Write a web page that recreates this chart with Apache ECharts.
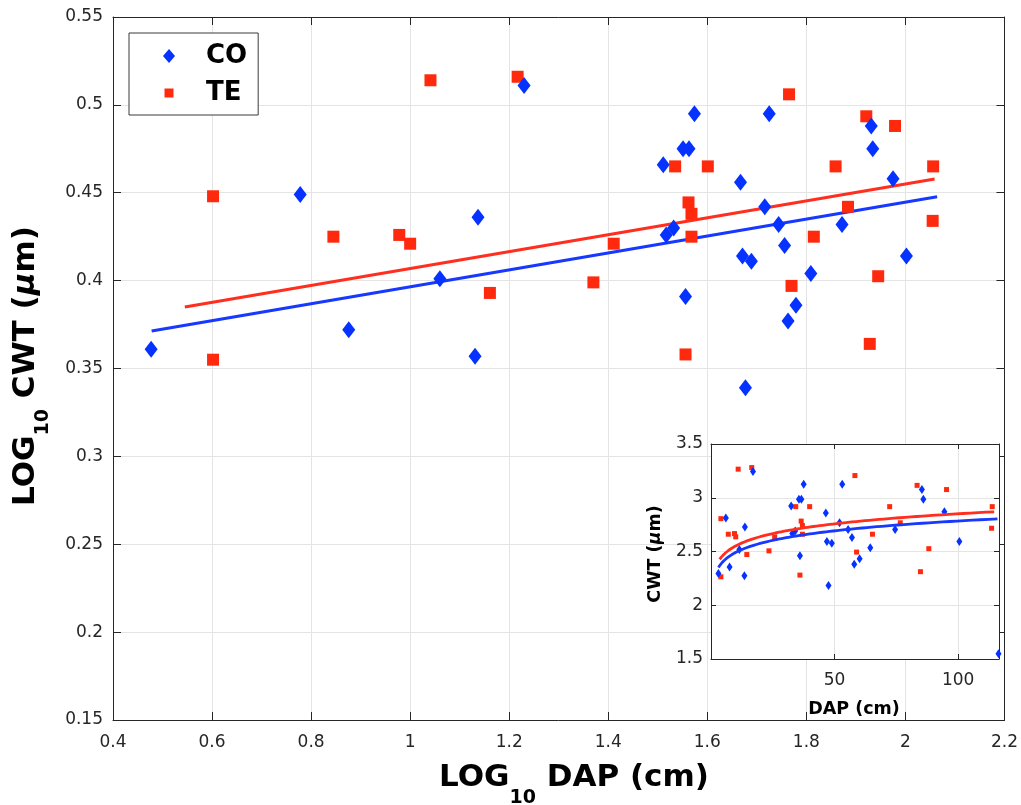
<!DOCTYPE html>
<html><head><meta charset="utf-8">
<script src="https://cdn.jsdelivr.net/npm/echarts@6/dist/echarts.min.js"></script>
<style>html,body{margin:0;padding:0;background:#fff}#c{width:1021px;height:805px}</style>
</head><body><div id="c"></div>
<script>
// ---- data (log10 values) ----
const coLogDAP = [0.477,0.778,0.876,1.060,1.137,1.131,1.230,1.511,1.517,1.532,1.551,1.556,1.563,1.574,1.667,1.671,1.677,1.689,1.716,1.725,1.744,1.756,1.763,1.779,1.809,1.872,1.931,1.934,1.975,2.002];
const coLogCWT = [0.361,0.449,0.372,0.401,0.436,0.357,0.511,0.466,0.426,0.430,0.475,0.391,0.475,0.495,0.456,0.414,0.339,0.411,0.442,0.495,0.432,0.420,0.377,0.386,0.404,0.432,0.488,0.475,0.458,0.414];
const teLogDAP = [0.602,0.602,0.845,0.978,1.000,1.041,1.161,1.217,1.370,1.411,1.535,1.556,1.562,1.568,1.568,1.601,1.765,1.770,1.815,1.859,1.884,1.921,1.928,1.945,1.979,2.055,2.056];
const teLogCWT = [0.448,0.355,0.425,0.426,0.421,0.514,0.393,0.516,0.399,0.421,0.465,0.358,0.4445,0.438,0.425,0.465,0.506,0.397,0.425,0.465,0.442,0.4935,0.364,0.4025,0.488,0.434,0.465];
// fitted regression lines (end points, log space)
const coFitLogDAP = [0.478, 2.064];
const coFitLogCWT = [0.3713, 0.4477];
const teFitLogDAP = [0.545, 2.059];
const teFitLogCWT = [0.385, 0.4578];
// inset-only point (linear units)
const insetCOExtraDAP = [116.3];
const insetCOExtraCWT = [1.55];
// axes
const mainXRange = [0.4, 2.2], mainXStep = 0.2;
const mainYRange = [0.15, 0.55], mainYStep = 0.05;
const insetXRange = [0, 116.5], insetXStep = 50;
const insetYRange = [1.5, 3.5], insetYStep = 0.5;
const seriesNames = ['CO', 'TE'];

const BLUE = '#0532FF', RED = '#FF2A0D';
const BLUE_L = '#1638FF', RED_L = '#FF2E1F';
const AX = '#262626', GRIDC = '#e4e4e4';
const FONT = 'DejaVu Sans';

const zip = (a, b) => a.map((v, i) => [v, b[i]]);
const pow10 = v => Math.pow(10, v);
const coMain = zip(coLogDAP, coLogCWT);
const teMain = zip(teLogDAP, teLogCWT);
const coInset = coMain.map(p => [pow10(p[0]), pow10(p[1])]).concat(zip(insetCOExtraDAP, insetCOExtraCWT));
const teInset = teMain.map(p => [pow10(p[0]), pow10(p[1])]);
function fitCurve(lx, ly, n) {
  const out = [];
  for (let i = 0; i <= n; i++) {
    const t = i / n;
    const x = lx[0] + (lx[1] - lx[0]) * t;
    const y = ly[0] + (ly[1] - ly[0]) * t;
    out.push([pow10(x), pow10(y)]);
  }
  return out;
}

// ---- title helper (subscripts) ----
const cv = document.createElement('canvas').getContext('2d');
function measure(t, size, italic) {
  cv.font = (italic ? 'italic ' : '') + 'bold ' + size + 'px "' + FONT + '"';
  return cv.measureText(t).width;
}
function titleGroup(parts, cx, cy, rot) {
  const ws = parts.map(p => measure(p.t, p.s, p.i));
  const W = ws.reduce((a, b) => a + b, 0);
  let x = -W / 2;
  const children = parts.map((p, k) => {
    const el = {
      type: 'text', x: x, y: p.dy || 0,
      style: { text: p.t, fontSize: p.s, fontWeight: 'bold', fontStyle: p.i ? 'italic' : 'normal',
        fontFamily: FONT, fill: '#000', textAlign: 'left', align: 'left',
        textVerticalAlign: 'middle', verticalAlign: 'middle' }
    };
    x += ws[k];
    return el;
  });
  return { type: 'group', x: cx, y: cy, rotation: rot, children: children, z: 50 };
}

function axisCommon(extra) {
  return Object.assign({
    type: 'value',
    axisLine: { show: true, onZero: false, lineStyle: { color: AX, width: 1 } },
    axisTick: { show: true, inside: true, length: 8, lineStyle: { color: AX, width: 1 } },
    axisLabel: { show: true, color: AX, fontSize: 17, fontFamily: FONT, showMinLabel: true, showMaxLabel: true },
    splitLine: { show: true, lineStyle: { color: GRIDC, width: 1 } }
  }, extra);
}

const G0 = { left: 113, top: 17, width: 892, height: 703 };
const G1 = { left: 711, top: 444, width: 288, height: 215 };

const option = {
  animation: false,
  backgroundColor: '#fff',
  grid: [
    Object.assign({ show: false, containLabel: false }, G0),
    Object.assign({ show: true, backgroundColor: '#fff', borderWidth: 0, containLabel: false, z: 2 }, G1)
  ],
  xAxis: [
    axisCommon({ gridIndex: 0, position: 'bottom', min: mainXRange[0], max: mainXRange[1], interval: mainXStep, z: 0,
      axisLabel: { color: AX, fontSize: 17, fontFamily: FONT, margin: 14, showMinLabel: true, showMaxLabel: true } }),
    axisCommon({ gridIndex: 0, position: 'top', min: mainXRange[0], max: mainXRange[1], interval: mainXStep, z: 0,
      axisLabel: { show: false }, splitLine: { show: false } }),
    axisCommon({ gridIndex: 1, position: 'bottom', min: insetXRange[0], max: insetXRange[1], interval: insetXStep, z: 3,
      axisTick: { show: true, inside: true, length: 5, lineStyle: { color: AX } },
      axisLabel: { color: AX, fontSize: 17, fontFamily: FONT, margin: 13, showMinLabel: false, showMaxLabel: false } }),
    axisCommon({ gridIndex: 1, position: 'top', min: insetXRange[0], max: insetXRange[1], interval: insetXStep, z: 3,
      axisTick: { show: true, inside: true, length: 5, lineStyle: { color: AX } },
      axisLabel: { show: false }, splitLine: { show: false } })
  ],
  yAxis: [
    axisCommon({ gridIndex: 0, position: 'left', min: mainYRange[0], max: mainYRange[1], interval: mainYStep, z: 0,
      axisLabel: { color: AX, fontSize: 17, fontFamily: FONT, margin: 10, showMinLabel: true, showMaxLabel: true } }),
    axisCommon({ gridIndex: 0, position: 'right', min: mainYRange[0], max: mainYRange[1], interval: mainYStep, z: 0,
      axisLabel: { show: false }, splitLine: { show: false } }),
    axisCommon({ gridIndex: 1, position: 'left', min: insetYRange[0], max: insetYRange[1], interval: insetYStep, z: 3,
      axisTick: { show: true, inside: true, length: 5, lineStyle: { color: AX } },
      axisLabel: { color: AX, fontSize: 17, fontFamily: FONT, margin: 8, showMinLabel: true, showMaxLabel: true } }),
    axisCommon({ gridIndex: 1, position: 'right', min: insetYRange[0], max: insetYRange[1], interval: insetYStep, z: 3,
      axisTick: { show: true, inside: true, length: 5, lineStyle: { color: AX } },
      axisLabel: { show: false }, splitLine: { show: false } })
  ],
  legend: {
    orient: 'vertical', left: 129, top: 33,
    padding: [10, 11, 9, 34], itemGap: 11, itemWidth: 38, itemHeight: 16,
    borderColor: '#3a3a3a', borderWidth: 1, backgroundColor: '#fff',
    textStyle: { fontFamily: FONT, fontWeight: 'bold', fontSize: 26, color: '#000' },
    data: [
      { name: seriesNames[0], icon: 'path://M0,0M38,16M6,1L12,8L6,15L0,8Z' },
      { name: seriesNames[1], icon: 'path://M0,0M38,16M1.5,3.5L10.5,3.5L10.5,12.5L1.5,12.5Z' }
    ],
    z: 20
  },
  graphic: [
    titleGroup([{ t: 'LOG', s: 31 }, { t: '10', s: 19, dy: 20 }, { t: ' DAP (cm)', s: 31 }], 574, 778, 0),
    titleGroup([{ t: 'LOG', s: 31 }, { t: '10', s: 19, dy: 17 }, { t: ' CWT (', s: 31 }, { t: 'μ', s: 31, i: true }, { t: 'm)', s: 31 }], 26, 366, Math.PI / 2),
    titleGroup([{ t: 'DAP (cm)', s: 17.5 }], 854, 709, 0),
    titleGroup([{ t: 'CWT (', s: 17.5 }, { t: 'μ', s: 17.5, i: true }, { t: 'm)', s: 17.5 }], 655, 554, Math.PI / 2)
  ],
  series: [
    { name: 'CO fit', type: 'line', xAxisIndex: 0, yAxisIndex: 0, data: zip(coFitLogDAP, coFitLogCWT), showSymbol: false, symbol: 'none',
      lineStyle: { color: BLUE_L, width: 3 }, z: 2 },
    { name: 'TE fit', type: 'line', xAxisIndex: 0, yAxisIndex: 0, data: zip(teFitLogDAP, teFitLogCWT), showSymbol: false, symbol: 'none',
      lineStyle: { color: RED_L, width: 3 }, z: 2 },
    { name: seriesNames[1], type: 'scatter', xAxisIndex: 0, yAxisIndex: 0, data: teMain, symbol: 'rect', symbolSize: [12, 12],
      itemStyle: { color: RED, opacity: 1 }, z: 3 },
    { name: seriesNames[0], type: 'scatter', xAxisIndex: 0, yAxisIndex: 0, data: coMain, symbol: 'diamond', symbolSize: [13, 17],
      itemStyle: { color: BLUE, opacity: 1 }, z: 3 },
    { name: seriesNames[1], type: 'scatter', xAxisIndex: 2, yAxisIndex: 2, data: teInset, symbol: 'rect', symbolSize: [5, 5],
      itemStyle: { color: RED, opacity: 1 }, z: 5 },
    { name: seriesNames[0], type: 'scatter', xAxisIndex: 2, yAxisIndex: 2, data: coInset, symbol: 'diamond', symbolSize: [6, 9],
      itemStyle: { color: BLUE, opacity: 1 }, z: 5, clip: false },
    { name: 'CO curve', type: 'line', xAxisIndex: 2, yAxisIndex: 2, data: fitCurve(coFitLogDAP, coFitLogCWT, 120), showSymbol: false, symbol: 'none',
      lineStyle: { color: BLUE_L, width: 2.8 }, z: 6 },
    { name: 'TE curve', type: 'line', xAxisIndex: 2, yAxisIndex: 2, data: fitCurve(teFitLogDAP, teFitLogCWT, 120), showSymbol: false, symbol: 'none',
      lineStyle: { color: RED_L, width: 2.8 }, z: 6 }
  ]
};
const chart = echarts.init(document.getElementById('c'), null, { renderer: 'canvas' });
chart.setOption(option);
</script></body></html>
